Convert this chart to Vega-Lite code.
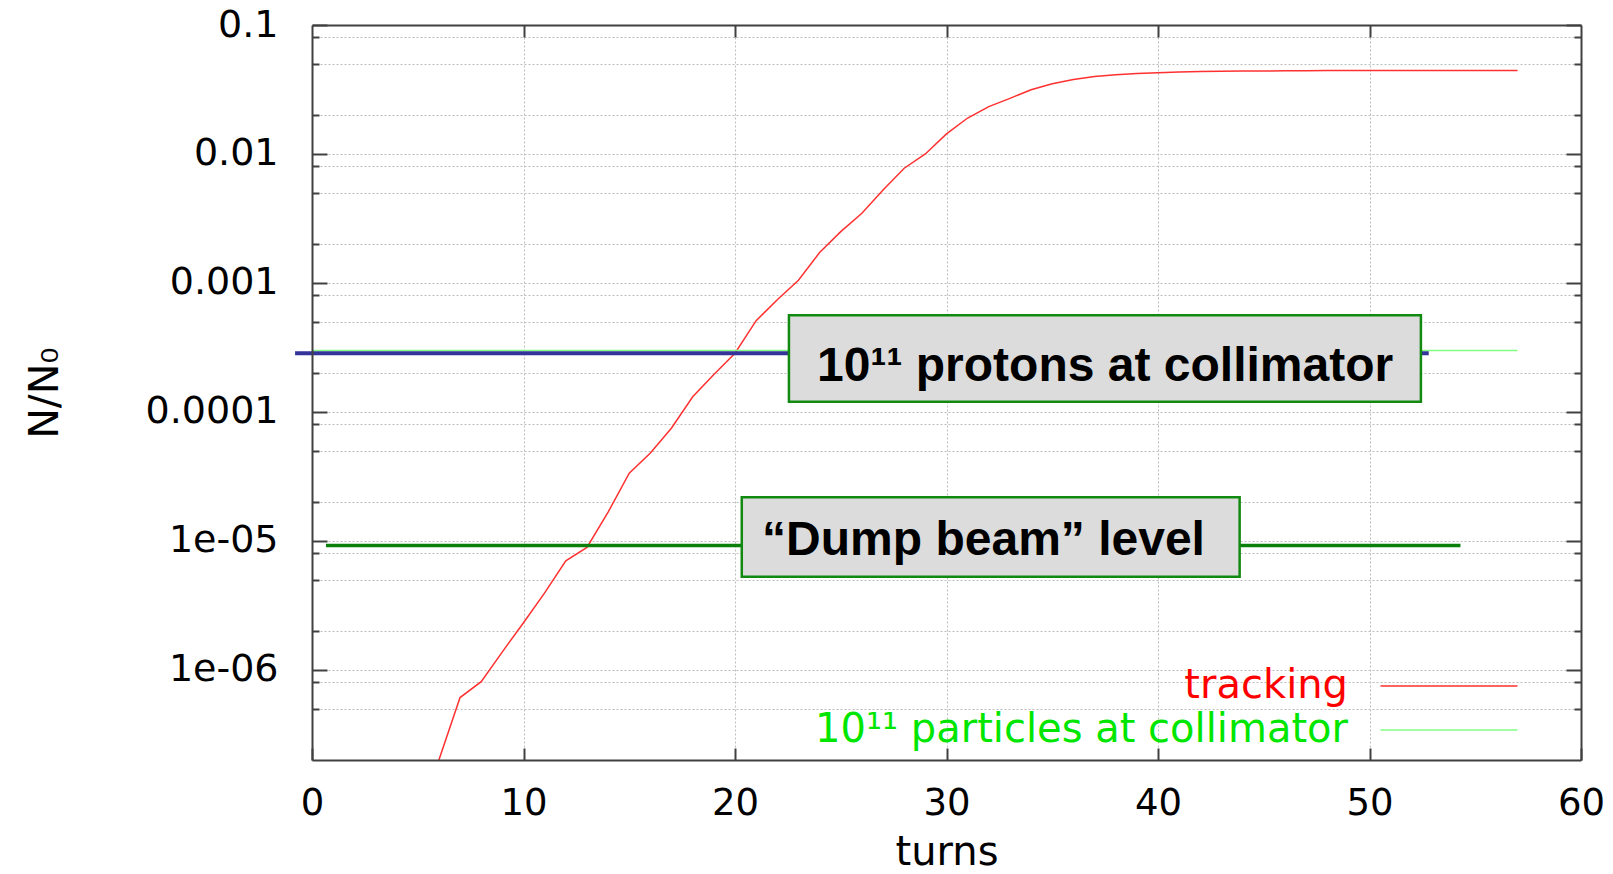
{
  "$schema": "https://vega.github.io/schema/vega-lite/v6.json",
  "width": 1269,
  "height": 735,
  "autosize": {"type": "none"},
  "padding": {"left": 312, "top": 25, "right": 32, "bottom": 114},
  "background": "white",
  "config": {
    "view": {"stroke": null},
    "font": "DejaVu Sans",
    "axis": {
      "labelFont": "DejaVu Sans",
      "titleFont": "DejaVu Sans",
      "labelColor": "#000000",
      "titleColor": "#000000",
      "titleFontWeight": "normal",
      "domainColor": "#404040",
      "domainWidth": 2,
      "tickColor": "#404040",
      "tickWidth": 2,
      "gridColor": "#bdbdbd",
      "gridDash": [2, 2],
      "gridWidth": 1
    }
  },
  "datasets": {
    "curves": [
      {"series": "tracking", "turn": 6, "value": 2.0e-7},
      {"series": "tracking", "turn": 7, "value": 6.1e-7},
      {"series": "tracking", "turn": 8, "value": 8.1e-7},
      {"series": "tracking", "turn": 9, "value": 1.38e-6},
      {"series": "tracking", "turn": 10, "value": 2.32e-6},
      {"series": "tracking", "turn": 11, "value": 3.95e-6},
      {"series": "tracking", "turn": 12, "value": 7.0e-6},
      {"series": "tracking", "turn": 13, "value": 8.9e-6},
      {"series": "tracking", "turn": 14, "value": 1.67e-5},
      {"series": "tracking", "turn": 15, "value": 3.35e-5},
      {"series": "tracking", "turn": 16, "value": 4.8e-5},
      {"series": "tracking", "turn": 17, "value": 7.5e-5},
      {"series": "tracking", "turn": 18, "value": 1.31e-4},
      {"series": "tracking", "turn": 19, "value": 1.95e-4},
      {"series": "tracking", "turn": 20, "value": 2.85e-4},
      {"series": "tracking", "turn": 21, "value": 5.1e-4},
      {"series": "tracking", "turn": 22, "value": 7.4e-4},
      {"series": "tracking", "turn": 23, "value": 1.05e-3},
      {"series": "tracking", "turn": 24, "value": 1.72e-3},
      {"series": "tracking", "turn": 25, "value": 2.5e-3},
      {"series": "tracking", "turn": 26, "value": 3.47e-3},
      {"series": "tracking", "turn": 27, "value": 5.26e-3},
      {"series": "tracking", "turn": 28, "value": 7.75e-3},
      {"series": "tracking", "turn": 29, "value": 1.0e-2},
      {"series": "tracking", "turn": 30, "value": 1.43e-2},
      {"series": "tracking", "turn": 31, "value": 1.9e-2},
      {"series": "tracking", "turn": 32, "value": 2.33e-2},
      {"series": "tracking", "turn": 33, "value": 2.7e-2},
      {"series": "tracking", "turn": 34, "value": 3.15e-2},
      {"series": "tracking", "turn": 35, "value": 3.5e-2},
      {"series": "tracking", "turn": 36, "value": 3.78e-2},
      {"series": "tracking", "turn": 37, "value": 3.98e-2},
      {"series": "tracking", "turn": 38, "value": 4.12e-2},
      {"series": "tracking", "turn": 39, "value": 4.21e-2},
      {"series": "tracking", "turn": 40, "value": 4.27e-2},
      {"series": "tracking", "turn": 41, "value": 4.32e-2},
      {"series": "tracking", "turn": 42, "value": 4.35e-2},
      {"series": "tracking", "turn": 43, "value": 4.37e-2},
      {"series": "tracking", "turn": 44, "value": 4.39e-2},
      {"series": "tracking", "turn": 45, "value": 4.4e-2},
      {"series": "tracking", "turn": 46, "value": 4.41e-2},
      {"series": "tracking", "turn": 47, "value": 4.42e-2},
      {"series": "tracking", "turn": 48, "value": 4.43e-2},
      {"series": "tracking", "turn": 50, "value": 4.43e-2},
      {"series": "tracking", "turn": 52, "value": 4.43e-2},
      {"series": "tracking", "turn": 54, "value": 4.43e-2},
      {"series": "tracking", "turn": 57, "value": 4.43e-2},
      {"series": "10¹¹ particles at collimator", "turn": 0, "value": 3.0e-4},
      {"series": "10¹¹ particles at collimator", "turn": 57, "value": 3.0e-4}
    ],
    "levels": [
      {"kind": "collimator", "level": 2.85e-4, "start": -0.8, "end": 52.8},
      {"kind": "dump", "level": 9.2e-6, "start": 0.66, "end": 54.3}
    ],
    "notes": [
      {"text": "10¹¹ protons at collimator", "x1": 22.55, "x2": 52.43, "y1": 1.2e-4, "y2": 5.62e-4, "tx": 37.5, "ty": 1.75e-4},
      {"text": "“Dump beam” level", "x1": 20.32, "x2": 43.86, "y1": 5.28e-6, "y2": 2.18e-5, "tx": 31.75, "ty": 7.73e-6}
    ]
  },
  "layer": [
    {
      "mark": {"type": "rect", "fill": "white"},
      "encoding": {
        "x": {"datum": 5.39, "type": "quantitative", "scale": {"domain": [0, 60], "nice": false, "zero": false},
          "axis": {"orient": "bottom", "values": [10, 20, 30, 40, 50], "grid": true, "ticks": false, "labels": false, "domain": false, "title": null, "zindex": 0}},
        "x2": {"datum": 58.53},
        "y": {"datum": 9.2e-7, "type": "quantitative", "scale": {"type": "log", "domain": [2e-7, 0.1], "nice": false},
          "axis": {"orient": "left", "values": [5e-7, 8e-7, 1e-6, 2e-6, 5e-6, 8e-6, 1e-5, 2e-5, 5e-5, 8e-5, 1e-4, 2e-4, 5e-4, 8e-4, 0.001, 0.002, 0.005, 0.008, 0.01, 0.02, 0.05, 0.08], "grid": true, "ticks": false, "labels": false, "domain": false, "title": null, "zindex": 0}},
        "y2": {"datum": 2e-7}
      }
    },
    {
      "data": {"name": "curves"},
      "mark": {"type": "line", "strokeWidth": 1.5, "clip": true},
      "encoding": {
        "x": {"field": "turn", "type": "quantitative", "scale": {"domain": [0, 60], "nice": false, "zero": false},
          "axis": {"orient": "bottom", "values": [0, 10, 20, 30, 40, 50, 60], "grid": false, "ticks": true, "tickSize": -12, "labels": true, "labelFontSize": 37, "labelPadding": 37, "labelOverlap": false, "labelFlush": false, "labelBound": false, "domain": true, "title": "turns", "titleFontSize": 40, "titlePadding": 11, "zindex": 1}},
        "y": {"field": "value", "type": "quantitative", "scale": {"type": "log", "domain": [2e-7, 0.1], "nice": false},
          "axis": {"orient": "left", "values": [1e-6, 1e-5, 1e-4, 0.001, 0.01, 0.1], "grid": false, "ticks": true, "tickSize": -15, "labels": true, "labelFontSize": 38, "labelPadding": 49, "labelOverlap": false, "labelBound": false, "labelFlush": false,
            "labelExpr": "datum.value >= 0.0001 ? toString(datum.value) : (datum.value > 0.000005 ? '1e-05' : '1e-06')",
            "domain": true, "title": "N/N₀", "titleFontSize": 41, "titlePadding": 79, "zindex": 1}},
        "color": {"field": "series", "type": "nominal",
          "scale": {"domain": ["tracking", "10¹¹ particles at collimator"], "range": ["#ff3030", "#80ff80"]},
          "legend": {
            "orient": "none", "legendX": 1117, "legendY": 641, "title": null, "padding": 0,
            "symbolType": "M-4,0H4", "symbolSize": 1173, "symbolStrokeWidth": 1.5, "rowPadding": 4,
            "labelFont": "DejaVu Sans", "labelFontSize": 40, "labelAlign": "right", "labelOffset": -121, "labelLimit": 1000,
            "labelColor": {"expr": "datum.value === 'tracking' ? '#ff0000' : '#00e600'"}
          }
        }
      }
    },
    {
      "data": {"name": "levels"},
      "transform": [{"filter": "datum.kind === 'collimator'"}],
      "mark": {"type": "rule", "color": "#333399", "strokeWidth": 4},
      "encoding": {
        "x": {"field": "start", "type": "quantitative", "scale": {"domain": [0, 60], "nice": false, "zero": false},
          "axis": {"orient": "top", "values": [10, 20, 30, 40, 50], "grid": false, "ticks": true, "tickSize": -12, "labels": false, "domain": true, "title": null, "zindex": 1}},
        "x2": {"field": "end"},
        "y": {"field": "level", "type": "quantitative", "scale": {"type": "log", "domain": [2e-7, 0.1], "nice": false},
          "axis": {"orient": "left", "values": [5e-7, 8e-7, 2e-6, 5e-6, 8e-6, 2e-5, 5e-5, 8e-5, 2e-4, 5e-4, 8e-4, 0.002, 0.005, 0.008, 0.02, 0.05, 0.08], "grid": false, "ticks": true, "tickSize": -7, "labels": false, "domain": false, "title": null, "zindex": 1}}
      }
    },
    {
      "data": {"name": "levels"},
      "transform": [{"filter": "datum.kind === 'dump'"}],
      "mark": {"type": "rule", "color": "#0a800a", "strokeWidth": 3.5},
      "encoding": {
        "x": {"field": "start", "type": "quantitative", "scale": {"domain": [0, 60], "nice": false, "zero": false}, "axis": null},
        "x2": {"field": "end"},
        "y": {"field": "level", "type": "quantitative", "scale": {"type": "log", "domain": [2e-7, 0.1], "nice": false},
          "axis": {"orient": "right", "values": [1e-6, 1e-5, 1e-4, 0.001, 0.01, 0.1], "grid": false, "ticks": true, "tickSize": -15, "labels": false, "domain": true, "title": null, "zindex": 1}}
      }
    },
    {
      "data": {"name": "notes"},
      "mark": {"type": "rect", "fill": "#dcdcdc", "stroke": "#128a12", "strokeWidth": 2.5},
      "encoding": {
        "x": {"field": "x1", "type": "quantitative", "scale": {"domain": [0, 60], "nice": false, "zero": false}, "axis": null},
        "x2": {"field": "x2"},
        "y": {"field": "y1", "type": "quantitative", "scale": {"type": "log", "domain": [2e-7, 0.1], "nice": false},
          "axis": {"orient": "right", "values": [5e-7, 8e-7, 2e-6, 5e-6, 8e-6, 2e-5, 5e-5, 8e-5, 2e-4, 5e-4, 8e-4, 0.002, 0.005, 0.008, 0.02, 0.05, 0.08], "grid": false, "ticks": true, "tickSize": -7, "labels": false, "domain": false, "title": null, "zindex": 1}},
        "y2": {"field": "y2"}
      }
    },
    {
      "data": {"name": "notes"},
      "mark": {"type": "text", "font": "Liberation Sans", "fontWeight": "bold", "fontSize": 48, "align": "center", "baseline": "alphabetic", "color": "#000000"},
      "encoding": {
        "x": {"field": "tx", "type": "quantitative", "scale": {"domain": [0, 60], "nice": false, "zero": false}, "axis": null},
        "y": {"field": "ty", "type": "quantitative", "scale": {"type": "log", "domain": [2e-7, 0.1], "nice": false}, "axis": null},
        "text": {"field": "text"}
      }
    }
  ],
  "resolve": {"axis": {"x": "independent", "y": "independent"}}
}
